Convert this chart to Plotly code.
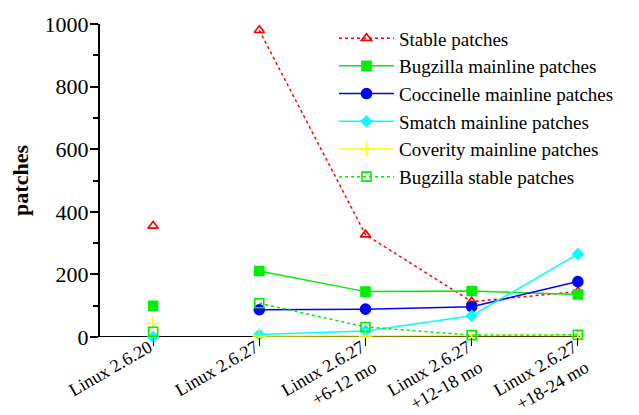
import plotly.graph_objects as go

categories = ["Linux 2.6.20", "Linux 2.6.27", "Linux 2.6.27<br>+6-12 mo",
              "Linux 2.6.27<br>+12-18 mo", "Linux 2.6.27<br>+18-24 mo"]
stable = [355, 980, 327, 113, 145]
bugzilla_mainline = [100, 211, 145, 147, 136]
coccinelle_mainline = [None, 87, 89, 97, 177]
smatch_mainline = [0, 8, 19, 68, 265]
coverity_mainline = [43, 3, 3, 5, 5]
bugzilla_stable = [17, 108, 32, 6, 7]
y_ticks = [0, 200, 400, 600, 800, 1000]

series = [
    ("Stable patches", stable, "#ff0000", "dot", "triangle-up-open", 9),
    ("Bugzilla mainline patches", bugzilla_mainline, "#00ee00", "solid", "square", 9),
    ("Coccinelle mainline patches", coccinelle_mainline, "#0000ff", "solid", "circle", 10),
    ("Smatch mainline patches", smatch_mainline, "#00ffff", "solid", "diamond", 8),
    ("Coverity mainline patches", coverity_mainline, "#ffff00", "solid", "cross-thin", 10),
    ("Bugzilla stable patches", bugzilla_stable, "#00ee00", "dot", "square-open", 9),
]

xs = list(range(len(categories)))
fig = go.Figure()
for name, vals, color, dash, sym, size in series:
    fig.add_trace(go.Scatter(
        x=xs[1:], y=vals[1:], name=name, mode="lines+markers",
        line=dict(color=color, width=1.5, dash=dash),
        marker=dict(symbol=sym, size=size, color=color,
                    line=dict(color=color, width=1.6)),
        cliponaxis=False))
    if vals[0] is not None:
        fig.add_trace(go.Scatter(
            x=[xs[0]], y=[vals[0]], mode="markers", showlegend=False,
            marker=dict(symbol=sym, size=size, color=color,
                        line=dict(color=color, width=1.6)),
            cliponaxis=False))

serif = "Liberation Serif, Times New Roman, serif"
tickfont = dict(family=serif, size=22, color="black")
xfont = dict(family=serif, size=18, color="black")
fig.update_layout(
    width=631, height=407,
    margin=dict(l=92, r=59, t=11, b=78),
    paper_bgcolor="white", plot_bgcolor="white",
    font=dict(family=serif, size=20, color="black"),
    showlegend=True,
    legend=dict(x=0.4875, y=1.015, xanchor="left", yanchor="top",
                bgcolor="rgba(0,0,0,0)", font=dict(family=serif, size=19, color="black"),
                tracegroupgap=0, itemwidth=55),
    xaxis=dict(range=[-0.5, 4.02], tickvals=xs, ticktext=categories,
               tickangle=-30, showgrid=False, zeroline=False, automargin=False,
               ticklabeloverflow="allow", ticklabelstandoff=-16, ticklabelshift=-4,
               showline=False, ticks="outside", ticklen=8, tickcolor="black",
               tickfont=xfont),
    yaxis=dict(range=[0, 1000], tickvals=y_ticks, showgrid=False, zeroline=False,
               automargin=False, ticklabeloverflow="allow", ticklabelstandoff=-3,
               showline=True, linecolor="black", linewidth=2,
               ticks="outside", ticklen=8, tickwidth=2, tickcolor="black",
               minor=dict(dtick=100, ticks="outside", ticklen=5, tickwidth=1.5, tickcolor="black"),
               title=dict(text="<b>patches</b>", font=dict(family=serif, size=22), standoff=26),
               tickfont=tickfont),
)
fig.add_shape(type="line", xref="paper", yref="y", x0=0, x1=1, y0=0, y1=0,
              line=dict(color="black", width=2), layer="below")
fig.write_html("out.html")
